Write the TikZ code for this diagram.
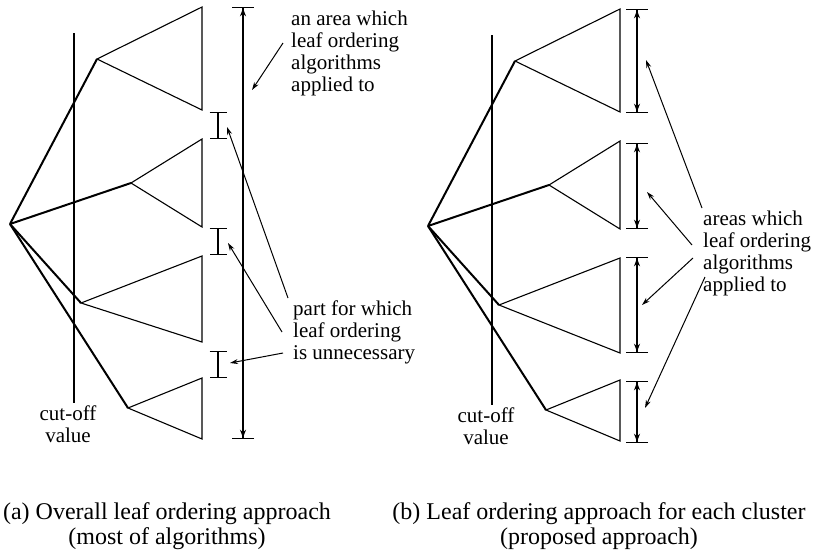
\documentclass[tikz,border=0pt]{standalone}
\usepackage{fontspec}
\setmainfont{Liberation Serif}
\usetikzlibrary{arrows.meta}
\newcommand{\LB}{\rmfamily\fontsize{21}{22}\selectfont}
\newcommand{\CP}{\rmfamily\fontsize{24}{25.5}\selectfont}

\begin{document}
\begin{tikzpicture}[x=1pt,y=-1pt]
\tikzstyle{texto}=[inner sep=0pt,font=\LB,align=left]
\tikzstyle{titulo}=[inner sep=0pt,font=\CP,align=center]
\tikzstyle{branch}=[line width=2pt]
\tikzstyle{tri}=[line width=1.1pt]
\tikzstyle{cut}=[line width=1.1pt]
\tikzstyle{span}=[line width=1.3pt,{Bar[width=22pt]Stealth[length=8pt,width=6pt]}-{Stealth[length=8pt,width=6pt]Bar[width=22pt]}]
\tikzstyle{gap}=[line width=1.3pt,{Bar[width=17pt]}-{Bar[width=17pt]}]
\tikzstyle{pointer}=[line width=1pt,-{Stealth[length=8pt,width=5pt]}]

\useasboundingbox (0,0) rectangle (817,555);

% the two trees, (a) on the left and (b) on the right
\foreach \p/\dx/\dy/\tb in {a/0/0/342,b/418/2/351}{
  \begin{scope}[xshift=\dx pt,yshift=-\dy pt]
  \coordinate (\p-root) at (10,224);
  \coordinate (\p-c1) at (97,59);
  \coordinate (\p-c2) at (131,183);
  \coordinate (\p-c3) at (81,303);
  \coordinate (\p-c4) at (128,408);
  \draw[cut] (74,33) -- (74,403);
  \foreach \c/\t/\b in {1/7/110,2/139/227,3/256/\tb,4/378/439}{
    \draw[branch] (\p-root) -- (\p-c\c);
    \draw[tri] (202,\t) -- (\p-c\c) -- (202,\b) -- cycle;
  }
  \end{scope}
}

% (a) one area for the whole tree
\coordinate (a-top) at (243,7);
\coordinate (a-bot) at (243,439);
\draw[span] (a-top) -- (a-bot);
\foreach \t/\b in {112/139,228/255,351/378}
  \draw[gap] (218,\t) -- (218,\b);

% (b) one area per cluster
\foreach \t/\b [count=\i] in {9/113,143/229,257/353,381/443}{
  \coordinate (b-top\i) at (637,\t);
  \coordinate (b-bot\i) at (637,\b);
  \draw[span] (b-top\i) -- (b-bot\i);
}

\node[texto,anchor=north west] (areaA) at (291,11) {an area which\\leaf ordering\\algorithms\\applied to};
\node[texto,anchor=north west] (partA) at (293,301) {part for which\\leaf ordering\\is unnecessary};
\node[texto,anchor=north west] (areaB) at (703,211) {areas which\\leaf ordering\\algorithms\\applied to};
\node[texto,align=center,anchor=north] (cutA) at (68,406) {cut-off\\value};
\node[texto,align=center,anchor=north] (cutB) at (486,408) {cut-off\\value};

% pointers from the labels
\coordinate (pA0) at (283,43);  \coordinate (tA0) at (252,90);
\coordinate (pA1) at (288,298); \coordinate (tA1) at (227,127);
\coordinate (pA2) at (282,332); \coordinate (tA2) at (228,243);
\coordinate (pA3) at (283,353); \coordinate (tA3) at (230,363);
\coordinate (pB1) at (702,208); \coordinate (tB1) at (646,60);
\coordinate (pB2) at (692,245); \coordinate (tB2) at (647,192);
\coordinate (pB3) at (693,258); \coordinate (tB3) at (642,305);
\coordinate (pB4) at (705,277); \coordinate (tB4) at (645,408);
\foreach \n in {A0,A1,A2,A3,B1,B2,B3,B4}
  \draw[pointer] (p\n) -- (t\n);

\node[titulo,anchor=north] (capA) at (167,502) {(a) Overall leaf ordering approach\\(most of algorithms)};
\node[titulo,anchor=north] (capB) at (599,502) {(b) Leaf ordering approach for each cluster\\(proposed approach)};
\end{tikzpicture}
\end{document}
